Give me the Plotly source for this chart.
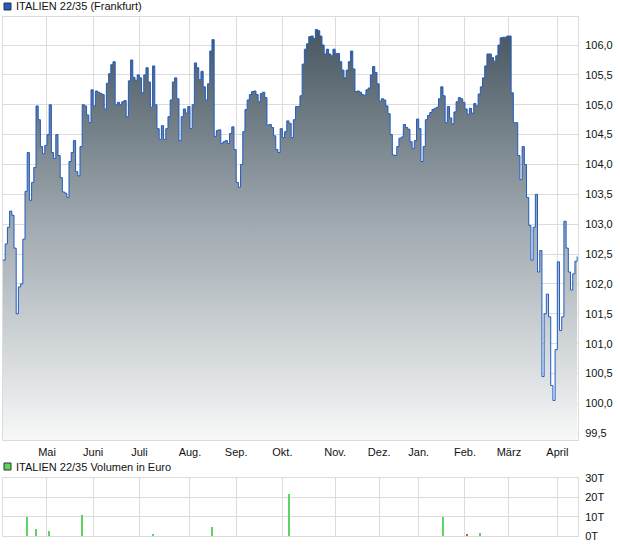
import plotly.graph_objects as go

# ---- data -------------------------------------------------------------
PRICE = [
    102.4, 102.67, 102.95, 103.22, 103.15, 102.6, 101.5, 101.95, 102.0, 102.75,
    103.55, 104.2, 103.4, 103.7, 103.95, 104.98, 104.75, 104.3, 104.18, 104.32,
    104.5, 105.0, 104.2, 104.1, 104.5, 104.15, 103.78, 103.54, 103.52, 103.45,
    104.05, 104.2, 104.4, 103.88, 103.81, 104.3, 105.0, 104.98, 104.83, 104.7,
    105.25, 104.98, 105.23, 105.21, 105.19,
    105.17, 104.93, 105.36, 105.52, 105.67, 105.72, 105.0, 105.04, 105.0, 105.05,
    105.07, 104.8, 105.4, 105.75, 105.46, 105.41, 105.5, 105.45, 105.2, 105.5,
    105.62, 105.38, 104.96, 105.65, 105.0, 104.6, 104.42, 104.65, 104.42, 104.6,
    104.8, 105.08, 105.38, 105.45, 105.1, 104.4, 104.8, 104.93, 104.86, 104.97,
    104.6, 105.0, 105.7,
    105.62, 105.42, 105.56, 105.3, 105.08, 105.35, 105.9, 106.09, 104.47, 104.57,
    104.58, 104.35, 104.38, 104.4, 104.35, 104.52, 104.63, 104.25, 103.7, 103.62,
    104.0, 104.55, 104.92, 105.08, 105.17, 105.22, 105.23, 105.17, 105.05, 105.19,
    105.21, 105.12, 104.66, 104.67, 104.62, 104.48, 104.25, 104.2, 104.6, 104.45,
    104.55, 104.73, 104.69,
    104.45, 104.75, 104.97, 104.97, 105.15, 105.68, 105.93, 106.02, 106.14, 106.15,
    106.11, 106.26, 106.24, 106.15, 106.0, 105.85, 105.93, 105.85, 105.82, 105.93,
    105.86, 105.86, 105.72, 105.58, 105.45, 105.58, 105.72, 105.9, 105.6, 105.22,
    105.23, 105.21, 105.17, 105.16, 105.25, 105.28, 105.5, 105.64, 105.54, 105.35,
    105.06, 105.1, 105.08, 104.98, 104.85,
    104.5, 104.16, 104.15, 104.3, 104.44, 104.46, 104.67, 104.62, 104.59, 104.38,
    104.27, 104.4, 104.76, 104.6, 104.05, 104.3, 104.75, 104.82, 104.87, 104.92,
    104.94, 104.96, 105.1, 105.3, 105.15, 104.7, 104.97, 104.78, 104.68, 104.88,
    105.05, 105.12, 105.1, 105.04, 104.93, 104.84, 104.94, 104.86, 105.02, 104.98,
    105.18, 105.3,
    105.45, 105.65, 105.85, 105.85, 105.79, 105.73, 105.82, 106.0, 106.12, 106.13,
    106.13, 106.15, 106.15, 105.2, 104.7, 104.7, 104.15, 103.75, 104.3, 104.0,
    103.45, 102.98, 102.4, 102.95, 103.5, 102.2, 102.56, 100.45, 101.5, 101.83,
    101.45, 100.3, 100.05, 100.9, 102.37, 101.22, 101.45, 103.05, 102.6, 102.2,
    101.9, 102.17, 102.38, 102.46,
]
DAY = list(range(len(PRICE)))  # trading-day index

MONTH_POS = [20, 41, 62, 85, 106, 127, 151, 171, 189, 210, 230, 252]
MONTH_LABELS = ["Mai", "Juni", "Juli", "Aug.", "Sep.", "Okt.", "Nov.",
                "Dez.", "Jan.", "Feb.", "März", "April"]

PRICE_TICKS = [99.5, 100.0, 100.5, 101.0, 101.5, 102.0, 102.5, 103.0,
               103.5, 104.0, 104.5, 105.0, 105.5, 106.0]
PRICE_TICK_LABELS = ["99,5", "100,0", "100,5", "101,0", "101,5", "102,0", "102,5",
                     "103,0", "103,5", "104,0", "104,5", "105,0", "105,5", "106,0"]

VOL_DAY = [11, 15, 21, 36, 68, 95, 130, 200, 211, 217]
VOL_VAL = [10, 3.5, 2.5, 11, 1, 4.5, 21.5, 10, 1, 1.5]   # thousand EUR
VOL_DIR = ["up", "up", "up", "up", "up", "up", "up", "up", "down", "up"]
VOL_TICKS = [0, 10, 20, 30]
VOL_TICK_LABELS = ["0T", "10T", "20T", "30T"]

TITLE_PRICE = "ITALIEN 22/35 (Frankfurt)"
TITLE_VOL = "ITALIEN 22/35 Volumen in Euro"

# ---- geometry helpers (pixel -> paper) --------------------------------
W, H = 620, 546
L, R, T, B = 3, 42, 17, 10
PW, PH = W - L - R, H - T - B


def px(x):
    return (x - L) / PW


def py(y):
    return (H - B - y) / PH


Y_MIN, Y_MAX = 99.388, 106.469
GRID = "#dcdcdc"
FONT = "Liberation Sans, Arial, sans-serif"

fig = go.Figure()

fig.add_trace(go.Scatter(
    x=DAY, y=PRICE, mode="lines", line=dict(color="#1f5cc4", width=1, shape="hv"),
    fill="tozeroy",
    fillgradient=dict(type="vertical", start=Y_MIN, stop=106.3,
                      colorscale=[[0, "#f7f8f8"], [0.5, "#a4adb3"], [1, "#46555f"]]),
    hoverinfo="skip", showlegend=False, xaxis="x", yaxis="y",
))

vol_colors = ["#5fd35f" if d == "up" else "#e04848" for d in VOL_DIR]
fig.add_trace(go.Bar(
    x=VOL_DAY, y=VOL_VAL, marker=dict(color=vol_colors, line=dict(width=0)),
    width=0.5, showlegend=False, hoverinfo="skip", xaxis="x2", yaxis="y2",
))

xcommon = dict(range=[0, 261.4], tickvals=MONTH_POS, showgrid=True, gridcolor=GRID,
               gridwidth=1, zeroline=False, showline=True, mirror=True,
               linecolor=GRID, linewidth=1, ticks="")

fig.update_layout(
    width=W, height=H,
    margin=dict(l=L, r=R, t=T, b=B),
    paper_bgcolor="white", plot_bgcolor="white",
    font=dict(family=FONT, size=11, color="#111"),
    bargap=0,
    xaxis=dict(**xcommon, domain=[0, 1], anchor="y", ticktext=MONTH_LABELS,
               showticklabels=True, ticklabelstandoff=2),
    yaxis=dict(domain=[py(440), 1], range=[Y_MIN, Y_MAX], side="right",
               tickvals=PRICE_TICKS, ticktext=PRICE_TICK_LABELS, showgrid=True,
               gridcolor=GRID, zeroline=False, showline=True, mirror=True,
               linecolor=GRID, ticks="", ticklabelstandoff=4, anchor="x"),
    xaxis2=dict(**xcommon, domain=[0, 1], anchor="y2", showticklabels=False),
    yaxis2=dict(domain=[0, py(478)], range=[0, 30], side="right",
                tickvals=VOL_TICKS, ticktext=VOL_TICK_LABELS, showgrid=True,
                gridcolor=GRID, zeroline=False, showline=True, mirror=True,
                linecolor=GRID, ticks="", ticklabelstandoff=4, anchor="x2"),
)

# legend-like headers
for text, ytop, col in [(TITLE_PRICE, 3, "#1f5cc4"), (TITLE_VOL, 463, "#5fd35f")]:
    fig.add_shape(type="rect", xref="paper", yref="paper",
                  x0=px(4), x1=px(11), y0=py(ytop + 7), y1=py(ytop),
                  fillcolor=col, line=dict(color="#333", width=1))
    fig.add_annotation(text=text, xref="paper", yref="paper", x=px(14),
                       y=py(ytop + 3.5), xanchor="left", yanchor="middle",
                       showarrow=False, font=dict(family=FONT, size=11, color="#111"))

fig.write_html(
    "out.html",
    config={"displayModeBar": False},
    post_script="document.body.style.margin='0';document.body.style.overflow='hidden';",
)
